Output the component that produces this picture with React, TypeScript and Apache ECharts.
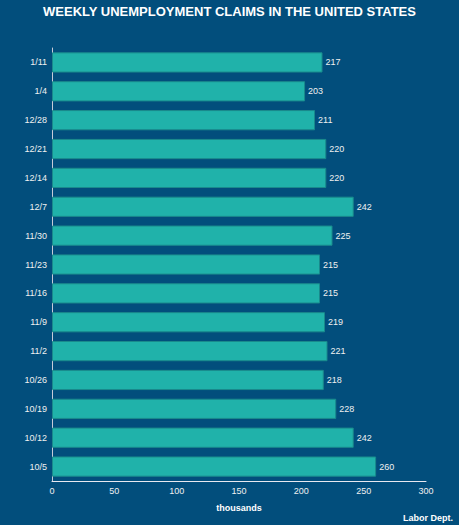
import React, { useEffect, useRef } from "react";
import * as echarts from "echarts";

const categories = ["10/5", "10/12", "10/19", "10/26", "11/2", "11/9", "11/16", "11/23", "11/30", "12/7", "12/14", "12/21", "12/28", "1/4", "1/11"];
const claims = [260, 242, 228, 218, 221, 219, 215, 215, 225, 242, 220, 220, 211, 203, 217];
const xTicks = [0, 50, 100, 150, 200, 250, 300];

const FONT = "'Liberation Sans', Arial, Helvetica, sans-serif";

export default function App() {
  const ref = useRef<HTMLDivElement>(null);
  useEffect(() => {
    if (!ref.current) return;
    const chart = echarts.init(ref.current, undefined, { renderer: "svg" });
    chart.setOption({
      animation: false,
      backgroundColor: "#024e7c",
      textStyle: { fontFamily: FONT },
      title: {
        text: "WEEKLY UNEMPLOYMENT CLAIMS IN THE UNITED STATES",
        left: "center",
        top: 0,
        textStyle: { color: "#ffffff", fontSize: 13, fontWeight: "bold", fontFamily: FONT },
      },
      graphic: [
        {
          type: "text",
          right: 6,
          top: 513,
          style: { text: "Labor Dept.", fill: "#ffffff", font: `bold 9px ${FONT}` },
        },
      ],
      grid: { left: 52, right: 33, top: 48, bottom: 44, containLabel: false },
      xAxis: {
        type: "value",
        min: 0,
        max: xTicks[xTicks.length - 1],
        interval: 50,
        name: "thousands",
        nameLocation: "middle",
        nameGap: 22,
        nameTextStyle: { color: "#ffffff", fontSize: 9, fontWeight: "bold", fontFamily: FONT },
        axisLine: { show: true, lineStyle: { color: "#e8e8f0", width: 1 } },
        axisTick: { show: false },
        splitLine: { show: false },
        axisLabel: { color: "#f0f0f0", fontSize: 9, margin: 5, fontFamily: FONT },
      },
      yAxis: {
        type: "category",
        data: categories,
        axisLine: { show: true, lineStyle: { color: "#c8cbd8", width: 1 } },
        axisTick: { show: false },
        axisLabel: { color: "#f0f0f0", fontSize: 9, margin: 5, fontFamily: FONT },
      },
      series: [
        {
          type: "bar",
          data: claims,
          barCategoryGap: "30%",
          itemStyle: { color: "#20b2aa", borderColor: "#1a8a8c", borderWidth: 1 },
          label: {
            show: true,
            position: "right",
            distance: 3,
            color: "#f0f0f0",
            fontSize: 9,
            fontFamily: FONT,
          },
        },
      ],
    });
    return () => chart.dispose();
  }, []);
  return <div ref={ref} style={{ width: 459, height: 525, position: "absolute", left: 0, top: 0 }} />;
}
